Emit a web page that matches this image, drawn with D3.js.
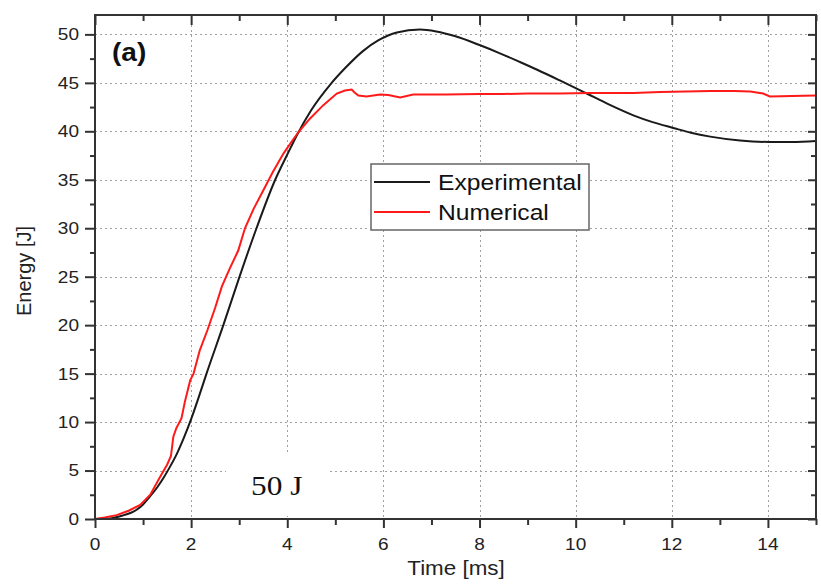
<!DOCTYPE html>
<html>
<head>
<meta charset="utf-8">
<script src="https://cdn.jsdelivr.net/npm/d3@7"></script>
<style>
  html, body { margin: 0; padding: 0; background: #fff; }
  svg { display: block; font-family: "Liberation Sans", Arial, sans-serif; }
</style>
</head>
<body>
<svg id="chart" width="821" height="584"></svg>
<script>
// ---- data ----
const expTime = [0, 0.3, 0.6, 0.8, 1.0, 1.14, 1.3, 1.42, 1.55, 1.7, 1.85, 2.0, 2.16, 2.32, 2.67, 3.0, 3.36, 3.74, 4.03, 4.2, 4.5, 4.89, 5.2, 5.58, 5.9, 6.28, 6.76, 7.1, 7.5, 8.0, 8.4, 8.84, 9.2, 9.67, 10.23, 10.7, 11.2, 11.6, 12.03, 12.4, 12.8, 13.42, 14.04, 14.5, 15];
const expEnergy = [0, 0.05, 0.4, 0.75, 1.5, 2.3, 3.3, 4.2, 5.3, 6.7, 8.4, 10.3, 12.6, 15.0, 20.0, 24.9, 30.0, 34.9, 37.9, 39.6, 42.2, 44.8, 46.5, 48.3, 49.4, 50.2, 50.5, 50.3, 49.8, 48.9, 48.1, 47.15, 46.35, 45.25, 43.9, 42.75, 41.65, 40.95, 40.35, 39.85, 39.45, 39.05, 38.9, 38.9, 39.0];

const numTime = [0, 0.2, 0.45, 0.7, 0.94, 1.15, 1.35, 1.5, 1.58, 1.63, 1.69, 1.8, 1.87, 1.98, 2.05, 2.18, 2.34, 2.5, 2.64, 2.8, 2.98, 3.12, 3.3, 3.5, 3.7, 3.92, 4.1, 4.23, 4.47, 4.75, 5.03, 5.2, 5.34, 5.4, 5.48, 5.65, 5.93, 6.1, 6.35, 6.62, 7.3, 8.0, 8.5, 9.0, 9.67, 10.3, 10.85, 11.2, 11.76, 12.3, 12.8, 13.3, 13.63, 13.9, 14.04, 14.5, 15];
const numEnergy = [0, 0.15, 0.4, 0.85, 1.45, 2.5, 4.3, 5.6, 6.5, 8.5, 9.35, 10.4, 12.1, 14.3, 15.0, 17.4, 19.5, 21.8, 24.0, 25.8, 27.7, 30.0, 32.0, 33.9, 35.8, 37.7, 39.0, 39.9, 41.3, 42.7, 43.9, 44.2, 44.3, 44.0, 43.7, 43.6, 43.8, 43.75, 43.5, 43.8, 43.8, 43.85, 43.85, 43.9, 43.9, 43.95, 43.95, 43.95, 44.05, 44.1, 44.15, 44.15, 44.1, 43.9, 43.6, 43.65, 43.7];

const xMajorTicks = [0, 2, 4, 6, 8, 10, 12, 14];
const xMinorTicks = [1, 3, 5, 7, 9, 11, 13, 15];
const yMajorTicks = [0, 5, 10, 15, 20, 25, 30, 35, 40, 45, 50];
const yMinorTicks = [2.5, 7.5, 12.5, 17.5, 22.5, 27.5, 32.5, 37.5, 42.5, 47.5];

const seriesNames = ["Experimental", "Numerical"];
const seriesColors = ["#1a1a1a", "#ff1a1a"];
const xTitle = "Time [ms]";
const yTitle = "Energy [J]";
const panelLabel = "(a)";
const annotation = "50 J";

// ---- layout ----
const L = 95, R = 816, T = 15, B = 519;
const SX = 1.12; // horizontal text stretch

const svg = d3.select("#chart");
const x = d3.scaleLinear().domain([0, 15]).range([L, R]);
const y = d3.scaleLinear().domain([0, 52]).range([B, T]);

// grid
const grid = svg.append("g").attr("stroke", "#a0a0a0").attr("stroke-width", 1).attr("stroke-dasharray", "2,3");
grid.selectAll("line.gx").data(xMajorTicks.filter(d => d > 0)).join("line")
  .attr("x1", d => Math.round(x(d)) + 0.5).attr("x2", d => Math.round(x(d)) + 0.5).attr("y1", T).attr("y2", B);
grid.selectAll("line.gy").data(yMajorTicks.filter(d => d > 0)).join("line")
  .attr("x1", L).attr("x2", R).attr("y1", d => Math.round(y(d)) + 0.5).attr("y2", d => Math.round(y(d)) + 0.5);

// annotation background and text
svg.append("rect").attr("x", 226).attr("y", 452).attr("width", 104).attr("height", 64).attr("fill", "#fff");
svg.append("text").attr("transform", `translate(251,495) scale(${SX},1)`)
  .style("font-family", "'Liberation Serif','Times New Roman',serif").attr("font-size", 28).attr("fill", "#111")
  .text(annotation);

// lines
const expData = expTime.map((t, i) => [t, expEnergy[i]]);
const numData = numTime.map((t, i) => [t, numEnergy[i]]);
svg.append("path").datum(expData).attr("fill", "none").attr("stroke", seriesColors[0]).attr("stroke-width", 2)
  .attr("d", d3.line().x(d => x(d[0])).y(d => y(d[1])).curve(d3.curveMonotoneX));
svg.append("path").datum(numData).attr("fill", "none").attr("stroke", seriesColors[1]).attr("stroke-width", 2)
  .attr("d", d3.line().x(d => x(d[0])).y(d => y(d[1])).curve(d3.curveLinear));

// axes (frame + ticks)
const axCol = "#333";
const axG = svg.append("g");
function styleAxis(g) {
  g.select(".domain").remove();
  g.selectAll(".tick line").attr("stroke", axCol).attr("stroke-width", 2);
  g.selectAll(".tick text").remove();
}
// bottom: outward
axG.append("g").attr("transform", `translate(0,${B})`).call(d3.axisBottom(x).tickValues(xMajorTicks).tickSize(9).tickFormat("")).call(styleAxis);
axG.append("g").attr("transform", `translate(0,${B})`).call(d3.axisBottom(x).tickValues(xMinorTicks).tickSize(6).tickFormat("")).call(styleAxis);
// top: inward
axG.append("g").attr("transform", `translate(0,${T})`).call(d3.axisBottom(x).tickValues(xMajorTicks).tickSize(10).tickFormat("")).call(styleAxis);
axG.append("g").attr("transform", `translate(0,${T})`).call(d3.axisBottom(x).tickValues(xMinorTicks).tickSize(6).tickFormat("")).call(styleAxis);
// left: outward
axG.append("g").attr("transform", `translate(${L},0)`).call(d3.axisLeft(y).tickValues(yMajorTicks).tickSize(10).tickFormat("")).call(styleAxis);
axG.append("g").attr("transform", `translate(${L},0)`).call(d3.axisLeft(y).tickValues(yMinorTicks).tickSize(5).tickFormat("")).call(styleAxis);
// right: inward
axG.append("g").attr("transform", `translate(${R},0)`).call(d3.axisLeft(y).tickValues(yMajorTicks).tickSize(8).tickFormat("")).call(styleAxis);
axG.append("g").attr("transform", `translate(${R},0)`).call(d3.axisLeft(y).tickValues(yMinorTicks).tickSize(5).tickFormat("")).call(styleAxis);
// frame
svg.append("rect").attr("x", L).attr("y", T).attr("width", R - L).attr("height", B - T)
  .attr("fill", "none").attr("stroke", axCol).attr("stroke-width", 2);

// tick labels
const lab = svg.append("g").attr("fill", "#222").attr("font-size", 17);
lab.selectAll("text.xl").data(xMajorTicks).join("text")
  .attr("text-anchor", "middle")
  .attr("transform", d => `translate(${x(d)},550) scale(${SX},1)`)
  .text(d => d);
lab.selectAll("text.yl").data(yMajorTicks).join("text")
  .attr("text-anchor", "end").attr("dy", "0.35em")
  .attr("transform", d => `translate(79,${y(d)}) scale(${SX},1)`)
  .text(d => d);

// axis titles
svg.append("text").attr("text-anchor", "middle").attr("font-size", 20).attr("fill", "#222")
  .attr("transform", `translate(456,575) scale(${SX},1)`).text(xTitle);
svg.append("text").attr("text-anchor", "middle").attr("font-size", 20).attr("fill", "#222")
  .attr("transform", `translate(31,271) rotate(-90)`).text(yTitle);

// panel label
svg.append("text").attr("font-size", 25).attr("font-weight", "bold").attr("fill", "#111")
  .attr("transform", `translate(112,61) scale(${SX},1)`).text(panelLabel);

// legend
const lg = svg.append("g");
lg.append("rect").attr("x", 371).attr("y", 164).attr("width", 218).attr("height", 66)
  .attr("fill", "#fff").attr("stroke", "#666").attr("stroke-width", 1.5);
seriesNames.forEach((name, i) => {
  const yy = 182 + i * 30;
  lg.append("line").attr("x1", 374).attr("x2", 430).attr("y1", yy).attr("y2", yy)
    .attr("stroke", seriesColors[i]).attr("stroke-width", 2);
  lg.append("text").attr("font-size", 22).attr("fill", "#111")
    .attr("transform", `translate(438,${yy + 8}) scale(${SX},1)`).text(name);
});
</script>
</body>
</html>
